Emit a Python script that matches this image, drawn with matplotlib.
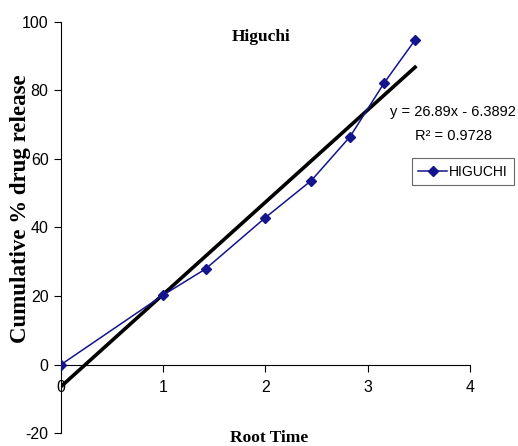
import numpy as np
import matplotlib
matplotlib.use("Agg")
import matplotlib.pyplot as plt

plt.rcParams["axes.unicode_minus"] = False

root_time = [0, 1, 1.414, 2, 2.449, 2.828, 3.162, 3.464]
release = [0, 20.3, 27.9, 42.9, 53.7, 66.5, 82.2, 94.7]
slope = 26.89
intercept = -6.3892
r2 = 0.9728
x_ticks = [0, 1, 2, 3, 4]
y_ticks = [-20, 0, 20, 40, 60, 80, 100]

fig = plt.figure(figsize=(5.18, 4.46), dpi=100)
ax = fig.add_axes([0.118, 0.029, 0.789, 0.922])

ax.plot(root_time, release, color="#14148c", lw=1.1, marker="D", ms=5.5,
        label="HIGUCHI", zorder=3)
fx = np.array([root_time[0], root_time[-1]])
ax.plot(fx, slope * fx + intercept, color="black", lw=2.6, zorder=2)

ax.set_xlim(0, 4)
ax.set_ylim(-20, 100)
ax.spines["top"].set_visible(False)
ax.spines["right"].set_visible(False)
ax.spines["bottom"].set_position(("data", 0))
ax.spines["left"].set_linewidth(0.8)
ax.spines["bottom"].set_linewidth(0.8)
ax.set_xticks(x_ticks)
ax.set_yticks(y_ticks)
ax.tick_params(direction="out", length=5, width=0.8, labelsize=11.5)
ax.tick_params(axis="x", pad=6)
ax.tick_params(axis="y", pad=4)
for lab in ax.get_xticklabels() + ax.get_yticklabels():
    lab.set_family("Liberation Sans")

serif = "Liberation Serif"
fig.text(0.504, 0.917, "Higuchi", family=serif, weight="bold", fontsize=12.5,
         ha="center", va="center")
fig.text(0.519, 0.018, "Root Time", family=serif, weight="bold", fontsize=12.5,
         ha="center", va="center")
fig.text(0.040, 0.531, "Cumulative % drug release", family=serif, weight="bold",
         fontsize=16.5, rotation=90, ha="center", va="center")

fig.text(0.875, 0.748, f"y = {slope}x - {abs(intercept)}", family="Liberation Sans",
         fontsize=10.5, ha="center", va="center")
fig.text(0.875, 0.695, f"R² = {r2}", family="Liberation Sans",
         fontsize=10.5, ha="center", va="center")

leg = ax.legend(loc="upper left", bbox_to_anchor=(0.795, 0.645),
                bbox_transform=fig.transFigure, frameon=True, fancybox=False,
                edgecolor="#444444", prop={"family": "Liberation Sans", "size": 10},
                handlelength=2.1, handletextpad=0.1, borderpad=0.45,
                borderaxespad=0, markerscale=0.9)
leg.get_frame().set_linewidth(0.8)

fig.savefig("out.png", dpi=100)
